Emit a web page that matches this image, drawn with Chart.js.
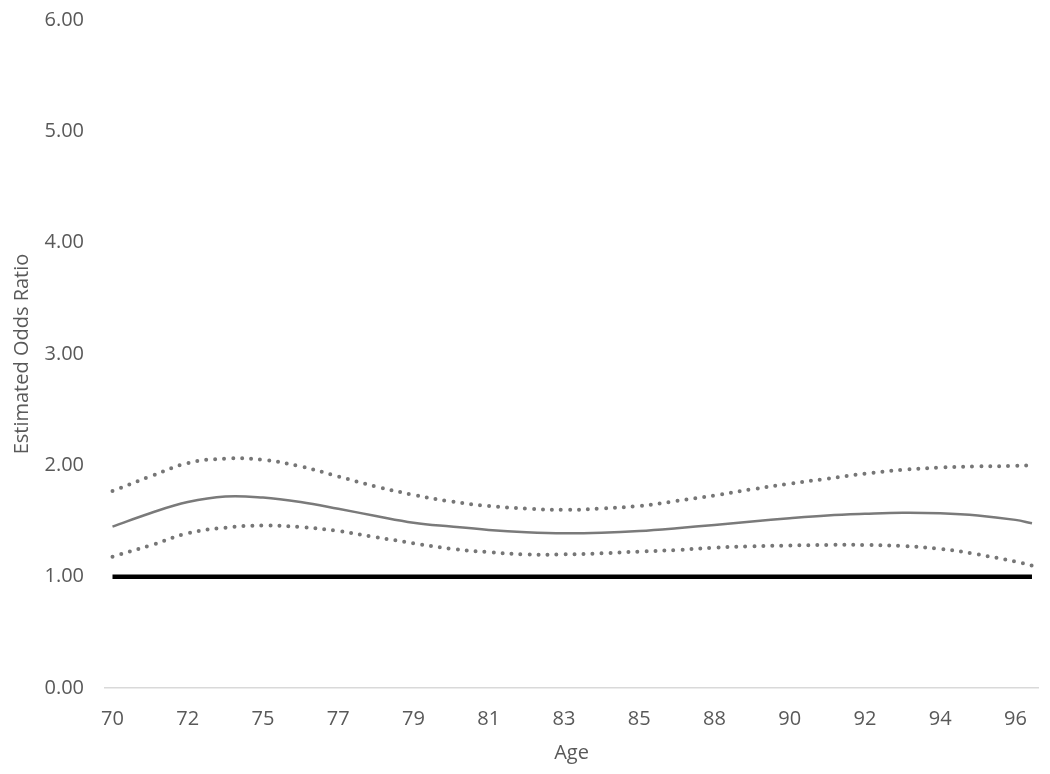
<!DOCTYPE html>
<html>
<head>
<meta charset="utf-8">
<title>Estimated Odds Ratio by Age</title>
<script src="https://cdn.jsdelivr.net/npm/chart.js@4/dist/chart.umd.min.js"></script>
<style>
  html, body { margin: 0; padding: 0; background: #fff; }
  #wrap { width: 1050px; height: 774px; position: relative; }
</style>
</head>
<body>
<div id="wrap"><canvas id="chart-or"></canvas></div>
<script>
// x positions in tick-label steps (0 = "70", 12 = "96"), last point runs a bit past 96
const xPos = [0, 0.5, 1, 1.5, 2, 2.5, 3, 3.5, 4, 4.5, 5, 5.5, 6, 6.5, 7, 7.5, 8, 8.5, 9, 9.5, 10, 10.5, 11, 11.5, 12, 12.22];
const xTickLabels = ["70", "72", "75", "77", "79", "81", "83", "85", "88", "90", "92", "94", "96"];

const estimate = [1.45, 1.57, 1.67, 1.72, 1.71, 1.67, 1.61, 1.545, 1.485, 1.45, 1.42, 1.40, 1.39, 1.395, 1.41, 1.435, 1.465, 1.495, 1.525, 1.55, 1.565, 1.575, 1.57, 1.55, 1.51, 1.48];
const upperCI = [1.77, 1.90, 2.02, 2.06, 2.05, 1.99, 1.90, 1.81, 1.735, 1.675, 1.635, 1.612, 1.60, 1.612, 1.635, 1.68, 1.73, 1.785, 1.835, 1.88, 1.925, 1.96, 1.98, 1.99, 1.995, 2.00];
const lowerCI = [1.18, 1.28, 1.39, 1.44, 1.46, 1.445, 1.41, 1.355, 1.30, 1.25, 1.22, 1.20, 1.20, 1.21, 1.225, 1.24, 1.26, 1.273, 1.28, 1.285, 1.285, 1.275, 1.25, 1.20, 1.135, 1.10];
const referenceOR = 1.00;

const toPoints = arr => xPos.map((x, i) => ({ x: x, y: arr[i] }));

Chart.defaults.font.family = "'Open Sans', sans-serif";
Chart.defaults.font.size = 20;
Chart.defaults.color = "#595959";

const dotted = {
  borderColor: "#767676",
  borderWidth: 4,
  borderDash: [0, 9],
  borderCapStyle: "round",
  pointRadius: 0,
  tension: 0.4,
  fill: false
};

new Chart(document.getElementById("chart-or"), {
  type: "line",
  data: {
    datasets: [
      Object.assign({ label: "Upper 95% CI", data: toPoints(upperCI) }, dotted),
      Object.assign({ label: "Lower 95% CI", data: toPoints(lowerCI) }, dotted),
      {
        label: "Estimated Odds Ratio",
        data: toPoints(estimate),
        borderColor: "#7a7a7a",
        borderWidth: 2.5,
        pointRadius: 0,
        tension: 0.4,
        fill: false
      },
      {
        label: "Reference",
        data: xPos.map(x => ({ x: x, y: referenceOR })),
        borderColor: "#000000",
        borderWidth: 4.5,
        pointRadius: 0,
        fill: false
      }
    ]
  },
  options: {
    responsive: true,
    maintainAspectRatio: false,
    animation: false,
    layout: { padding: { top: 20, right: 12, left: 0, bottom: 0 } },
    plugins: {
      legend: { display: false },
      tooltip: { enabled: false }
    },
    scales: {
      x: {
        type: "linear",
        min: -0.0997,
        max: 12.3,
        grid: { display: false, drawTicks: false },
        border: { display: true, color: "#d9d9d9", width: 1.5 },
        afterBuildTicks: scale => {
          scale.ticks = xTickLabels.map((_, i) => ({ value: i }));
        },
        afterFit: scale => {
          scale.height = 86;
          scale.paddingLeft = 0;
          scale.paddingRight = 0;
        },
        ticks: {
          padding: 19,
          autoSkip: false,
          maxRotation: 0,
          callback: value => xTickLabels[value]
        },
        title: {
          display: true,
          text: "Age",
          padding: { top: 0, bottom: 9 }
        }
      },
      y: {
        min: 0,
        max: 6,
        grid: { display: false, drawTicks: false },
        border: { display: false },
        afterFit: scale => {
          scale.width = 105;
          // keep tick padding from pushing the plot area down
          scale.paddingTop = 0;
          scale.paddingBottom = 0;
        },
        ticks: {
          stepSize: 1,
          padding: 21,
          callback: value => value.toFixed(2)
        },
        title: {
          display: true,
          text: "Estimated Odds Ratio",
          padding: { top: 10, bottom: 0 }
        }
      }
    }
  }
});
</script>
</body>
</html>
